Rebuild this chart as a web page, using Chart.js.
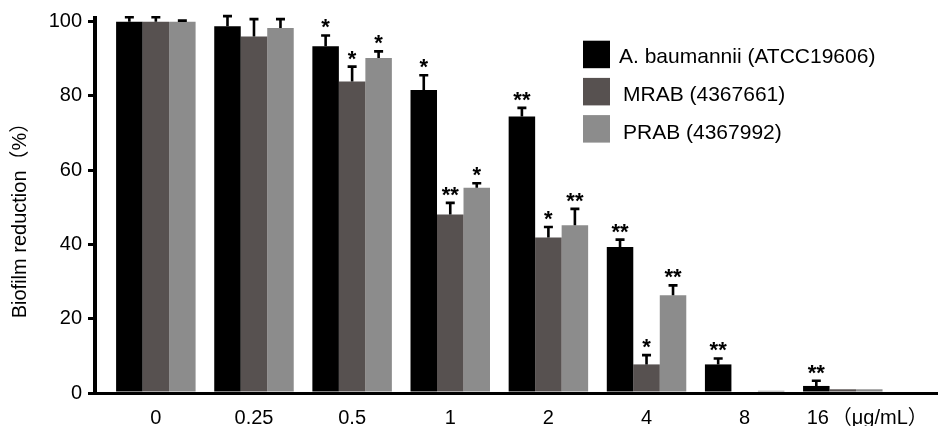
<!DOCTYPE html>
<html>
<head>
<meta charset="utf-8">
<script src="https://cdn.jsdelivr.net/npm/chart.js@4.4.1/dist/chart.umd.min.js"></script>
<style>
  html, body { margin: 0; padding: 0; background: #fff; }
  #wrap { width: 938px; height: 426px; position: relative; }
</style>
</head>
<body>
<div id="wrap"><canvas id="c"></canvas></div>
<script>
// ---- data ----
const categories = ['0', '0.25', '0.5', '1', '2', '4', '8', '16'];
const unitLabel = '（μg/mL）';
const yTicks = [0, 20, 40, 60, 80, 100];
const yTitle = 'Biofilm reduction（%）\u2003';

const seriesNames = ['A. baumannii (ATCC19606)', 'MRAB (4367661)', 'PRAB (4367992)'];

const atccValues = [100, 98.8, 93.4, 81.6, 74.5, 39.3, 7.7, 1.9];
const mrabValues = [100, 96.0, 83.9, 48.1, 41.9, 7.7, 0, 1.0];
const prabValues = [100, 98.3, 90.2, 55.3, 45.2, 26.3, 0.6, 1.0];

const atccErrors = [1.2, 2.7, 2.9, 4.0, 2.3, 2.0, 1.6, 1.4];
const mrabErrors = [1.2, 4.7, 4.0, 3.1, 2.8, 2.5, 0, 0];
const prabErrors = [0.3, 2.4, 1.8, 1.2, 4.4, 2.7, 0, 0];

const atccStars = ['', '', '*', '*', '**', '**', '**', '**'];
const mrabStars = ['', '', '*', '**', '*', '*', '', ''];
const prabStars = ['', '', '*', '*', '**', '**', '', ''];

// ---- styling ----
const FONT = "'Liberation Sans', Arial, 'Noto Sans CJK SC', sans-serif";
const colors = ['#000000', '#575150', '#8c8c8c'];
const LABEL_PAD = 13;

const toPoints = arr => arr.map((v, i) => ({ x: i, y: v }));

const errorPlugin = {
  id: 'errorBars',
  afterDatasetsDraw(chart) {
    const ctx = chart.ctx;
    const ys = chart.scales.y;
    chart.data.datasets.forEach((ds, di) => {
      const meta = chart.getDatasetMeta(di);
      meta.data.forEach((bar, j) => {
        const v = ds.data[j].y;
        const e = ds.errors[j];
        const yTop = ys.getPixelForValue(v);
        const yErr = ys.getPixelForValue(v + e);
        ctx.save();
        ctx.strokeStyle = '#000';
        ctx.lineWidth = 2.6;
        if (e > 0) {
          ctx.beginPath();
          ctx.moveTo(bar.x, yTop);
          ctx.lineTo(bar.x, yErr);
          ctx.moveTo(bar.x - 4.5, yErr);
          ctx.lineTo(bar.x + 4.5, yErr);
          ctx.stroke();
        }
        const s = ds.stars[j];
        if (s) {
          ctx.fillStyle = '#000';
          ctx.font = 'bold 22px ' + FONT;
          ctx.textAlign = 'center';
          ctx.textBaseline = 'alphabetic';
          ctx.fillText(s, bar.x, yErr - 13.5 + 12.5);
        }
        ctx.restore();
      });
    });
  }
};

const legendPlugin = {
  id: 'customLegend',
  afterDraw(chart) {
    const ctx = chart.ctx;
    ctx.save();
    chart.data.datasets.forEach((ds, i) => {
      const top = 40.7 + i * 37.2;
      ctx.fillStyle = ds.backgroundColor;
      ctx.fillRect(583, top, 27, 27.5);
      ctx.fillStyle = '#000';
      ctx.font = '21px ' + FONT;
      ctx.textAlign = 'left';
      ctx.textBaseline = 'middle';
      ctx.fillText(ds.label, i === 0 ? 619 : 623, top + 17 + i * 0.8);
    });
    ctx.restore();
  }
};

const unitPlugin = {
  id: 'unitLabel',
  afterDraw(chart) {
    const xs = chart.scales.x;
    const ctx = chart.ctx;
    ctx.save();
    ctx.fillStyle = '#000';
    ctx.font = '20px ' + FONT;
    ctx.textAlign = 'left';
    ctx.textBaseline = 'middle';
    ctx.fillText(unitLabel, xs.getPixelForValue(categories.length - 1) - 11, xs.top + LABEL_PAD + 12);
    ctx.restore();
  }
};

const ds = (i, vals, errs, stars) => ({
  label: seriesNames[i],
  data: toPoints(vals),
  errors: errs,
  stars: stars,
  backgroundColor: colors[i],
  borderWidth: 0,
  categoryPercentage: 0.81,
  barPercentage: 1.0
});

new Chart(document.getElementById('c'), {
  type: 'bar',
  data: {
    datasets: [
      ds(0, atccValues, atccErrors, atccStars),
      ds(1, mrabValues, mrabErrors, mrabStars),
      ds(2, prabValues, prabErrors, prabStars)
    ]
  },
  options: {
    responsive: true,
    maintainAspectRatio: false,
    animation: false,
    devicePixelRatio: 1,
    layout: { padding: { top: 17.3, right: 0, bottom: 0, left: 0 } },
    plugins: { legend: { display: false }, tooltip: { enabled: false } },
    scales: {
      x: {
        type: 'linear',
        offset: false,
        min: -0.62,
        max: 7.97,
        afterBuildTicks: s => { s.ticks = categories.map((c, i) => ({ value: i })); },
        afterFit: s => { s.height = 33; },
        ticks: {
          autoSkip: false,
          maxRotation: 0,
          padding: LABEL_PAD,
          color: '#000',
          font: { family: FONT, size: 20 },
          callback: (v, idx) => idx === categories.length - 1
            ? categories[idx] + '\u2003\u2003\u2002'
            : categories[idx]
        },
        grid: { display: false, drawTicks: false },
        border: { display: true, color: '#000', width: 3 }
      },
      y: {
        min: 0,
        max: 101,
        afterBuildTicks: s => { s.ticks = yTicks.map(v => ({ value: v })); },
        afterFit: s => { s.width = 95; },
        ticks: {
          padding: 6,
          color: '#000',
          font: { family: FONT, size: 20 }
        },
        grid: { drawOnChartArea: false, drawTicks: true, tickLength: 7, lineWidth: 3, color: '#000' },
        border: { display: true, color: '#000', width: 4 },
        title: {
          display: true,
          text: yTitle,
          color: '#000',
          font: { family: FONT, size: 20 },
          padding: { top: 8, bottom: 0 }
        }
      }
    }
  },
  plugins: [errorPlugin, legendPlugin, unitPlugin]
});
</script>
</body>
</html>
